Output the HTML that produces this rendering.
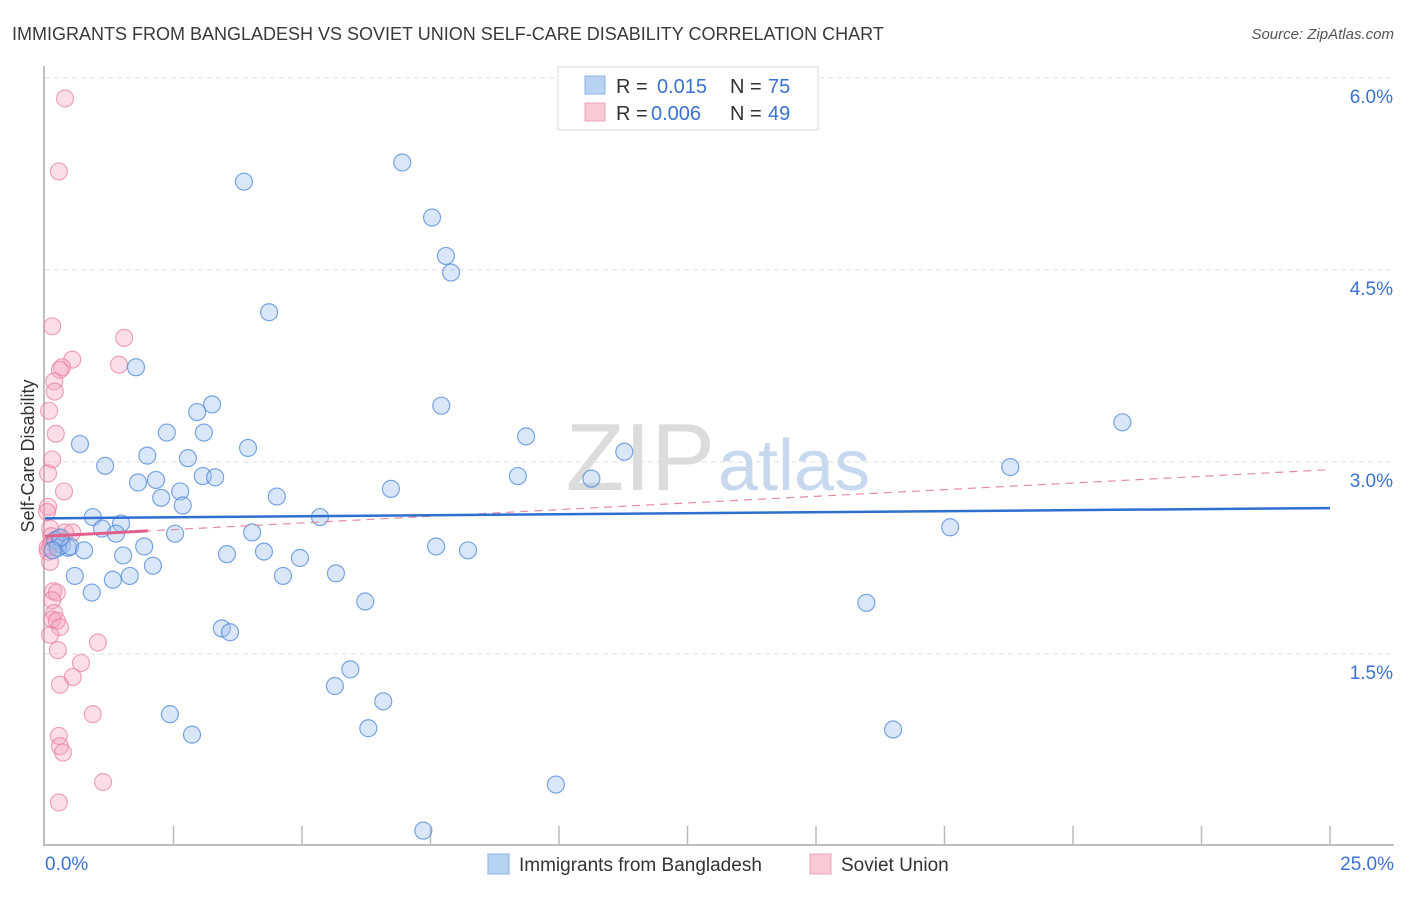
<!DOCTYPE html>
<html><head><meta charset="utf-8"><style>
body{margin:0;background:#fff;font-family:"Liberation Sans",sans-serif;}
svg text{font-family:"Liberation Sans",sans-serif;}
</style></head><body>
<svg id="chart" width="1406" height="892" viewBox="0 0 1406 892" xmlns="http://www.w3.org/2000/svg">
<text x="12" y="40" font-size="18" fill="#3a3a3a">IMMIGRANTS FROM BANGLADESH VS SOVIET UNION SELF-CARE DISABILITY CORRELATION CHART</text>
<text x="1394" y="39" font-size="15" fill="#555" font-style="italic" text-anchor="end">Source: ZipAtlas.com</text>
<g id="grid"></g>
<text x="715" y="490" font-size="96" fill="#dcdcdc" text-anchor="end" font-family="Liberation Serif">ZIP</text>
<text x="718" y="490" font-size="72" fill="#c8d8ee">atlas</text>
<g id="axes"></g>
<g id="pts"></g>
<g id="trend"></g>
<text transform="translate(34,456) rotate(-90)" font-size="18" fill="#333" text-anchor="middle">Self-Care Disability</text>
<g>
<rect x="558" y="67" width="260" height="63" fill="#fff" stroke="#ddd"/>
<rect x="585" y="76" width="20" height="18" fill="#b8d2f3" stroke="#8fb3e6"/>
<rect x="585" y="103" width="20" height="18" fill="#f9c9d6" stroke="#eea5bb"/>
<text x="616" y="93" font-size="20" fill="#333">R = </text><text x="657" y="93" font-size="20" fill="#3b72d1">0.015</text>
<text x="730" y="93" font-size="20" fill="#333">N = </text><text x="768" y="93" font-size="20" fill="#3b72d1">75</text>
<text x="616" y="120" font-size="20" fill="#333">R = </text><text x="651" y="120" font-size="20" fill="#3b72d1">0.006</text>
<text x="730" y="120" font-size="20" fill="#333">N = </text><text x="768" y="120" font-size="20" fill="#3b72d1">49</text>
</g>
<g>
<rect x="488" y="854" width="21" height="20" fill="#b8d2f3" stroke="#8fb3e6"/>
<text x="519" y="871" font-size="19" fill="#333">Immigrants from Bangladesh</text>
<rect x="810" y="854" width="21" height="20" fill="#f9c9d6" stroke="#eea5bb"/>
<text x="841" y="871" font-size="19" fill="#333">Soviet Union</text>
</g>
</svg>
<script>
const xTicks=[0,2.5,5,7.5,10,12.5,15,17.5,20,22.5,25];
const yTicks=[1.5,3.0,4.5,6.0];
const blueX=[6.95,3.87,7.53,7.80,7.90,4.36,1.77,3.25,2.96,7.71,20.96,0.68,2.37,3.09,3.95,9.36,11.27,1.17,1.99,2.78,18.78,9.20,10.63,1.81,2.16,3.07,3.31,2.63,2.26,2.68,6.73,4.51,0.93,1.48,1.11,5.35,17.61,1.38,2.53,4.03,0.2,0.33,0.45,0.25,0.49,0.76,1.93,7.61,8.23,1.52,3.54,4.26,4.96,2.10,0.58,1.65,4.63,5.66,1.32,0.91,6.23,15.98,3.44,3.60,5.94,5.64,6.58,2.43,6.29,2.86,16.50,9.94,7.36,0.3,0.15];
const blueY=[5.34,5.19,4.91,4.61,4.48,4.17,3.74,3.45,3.39,3.44,3.31,3.14,3.23,3.23,3.11,3.20,3.08,2.97,3.05,3.03,2.96,2.89,2.87,2.84,2.86,2.89,2.88,2.77,2.72,2.66,2.79,2.73,2.57,2.52,2.48,2.57,2.49,2.44,2.44,2.45,2.39,2.35,2.33,2.33,2.34,2.31,2.34,2.34,2.31,2.27,2.28,2.30,2.25,2.19,2.11,2.11,2.11,2.13,2.08,1.98,1.91,1.90,1.70,1.67,1.38,1.25,1.13,1.03,0.92,0.87,0.91,0.48,0.12,2.41,2.31];
const pinkX=[0.39,0.27,0.14,1.54,0.53,0.33,0.29,1.44,0.18,0.19,0.08,0.21,0.14,0.37,0.06,0.06,0.04,0.10,0.39,0.53,0.2,0.14,0.25,0.10,0.29,0.06,0.10,0.16,0.23,0.14,0.18,0.14,0.23,0.29,0.10,0.25,1.03,0.70,0.54,0.29,0.93,0.27,0.29,0.35,1.13,0.27,0.12,0.3,0.05];
const pinkY=[5.84,5.27,4.06,3.97,3.80,3.74,3.72,3.76,3.63,3.55,3.40,3.22,3.02,2.77,2.91,2.65,2.61,2.48,2.45,2.45,2.39,2.37,2.36,2.34,2.40,2.30,2.22,1.99,1.98,1.92,1.82,1.77,1.76,1.71,1.65,1.53,1.59,1.43,1.32,1.26,1.03,0.86,0.78,0.73,0.50,0.34,2.42,2.38,2.33];
const blueTrend=[2.56,2.64];
const pinkTrend=[2.42,2.94];
const X0=45,X1=1330,YB=846;
const sx=v=>X0+(v/25)*(X1-X0);
const sy=v=>YB-v*128;
const NS="http://www.w3.org/2000/svg";
function mk(tag,attrs,parent){const e=document.createElementNS(NS,tag);for(const k in attrs)e.setAttribute(k,attrs[k]);parent.appendChild(e);return e;}
const grid=document.getElementById('grid'),axes=document.getElementById('axes'),pts=document.getElementById('pts'),trend=document.getElementById('trend');
yTicks.forEach(t=>{
 const l=mk('line',{x1:X0,x2:1394,y1:sy(t),y2:sy(t),stroke:'#ddd','stroke-dasharray':'5,4'},grid);
 
 
 const tx=mk('text',{x:1393,y:sy(t)+25,'font-size':19,fill:'#3b72d1','text-anchor':'end'},grid);
 tx.textContent=t.toFixed(1)+'%';
 
 
});
const ax=mk('line',{x1:X0-1,x2:X0-1,y1:66,y2:YB,stroke:'#aaa','stroke-width':1.5},axes);


const bx=mk('line',{x1:X0-1,x2:1394,y1:YB-1,y2:YB-1,stroke:'#aaa','stroke-width':1.5},axes);


xTicks.forEach(t=>{
 if(t===0)return;
 const l=mk('line',{x1:sx(t),x2:sx(t),y1:826,y2:YB,stroke:'#bbb','stroke-width':1.5},axes);
 
 
});
[[0,'start',45],[25,'end',1394]].forEach(([v,a,x])=>{
 const tx=mk('text',{x:x,y:870,'font-size':19,fill:'#3b72d1','text-anchor':a},axes);
 tx.textContent=v.toFixed(1)+'%';
 
 
});
pinkX.forEach((x,i)=>{
 const c=mk('circle',{cx:sx(x),cy:sy(pinkY[i]),r:8.5,fill:'rgba(244,160,185,0.35)',stroke:'rgba(233,120,155,0.65)','stroke-width':1.2},pts);
 
 
});
blueX.forEach((x,i)=>{
 const c=mk('circle',{cx:sx(x),cy:sy(blueY[i]),r:8.5,fill:'rgba(160,195,240,0.4)',stroke:'rgba(70,130,215,0.7)','stroke-width':1.2},pts);
 
 
});
const pd=mk('line',{x1:sx(0),y1:sy(pinkTrend[0]),x2:sx(25),y2:sy(pinkTrend[1]),stroke:'#e58aa6','stroke-width':1.2,'stroke-dasharray':'8,6'},trend);


const pe=2;
const ps=mk('line',{x1:sx(0),y1:sy(pinkTrend[0]),x2:sx(pe),y2:sy(pinkTrend[0]+(pinkTrend[1]-pinkTrend[0])*pe/25),stroke:'#e0608a','stroke-width':3},trend);


const bl=mk('line',{x1:sx(0),y1:sy(blueTrend[0]),x2:sx(25),y2:sy(blueTrend[1]),stroke:'#2f6fd0','stroke-width':2.5},trend);


</script>
</body></html>
